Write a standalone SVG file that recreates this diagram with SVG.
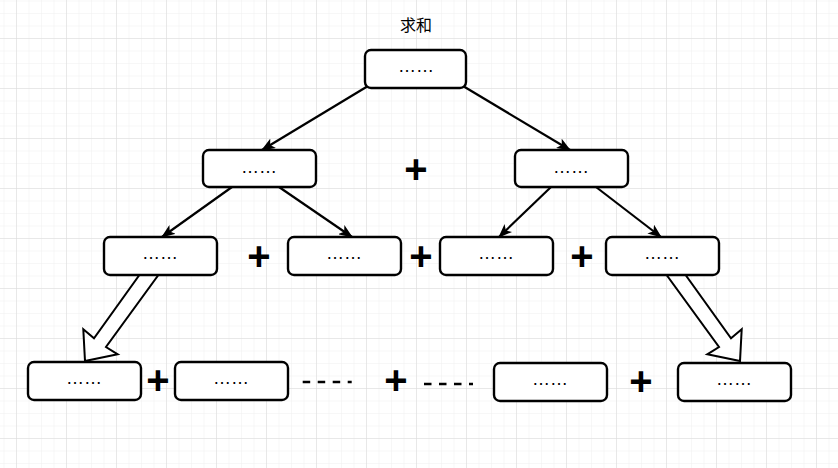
<svg xmlns="http://www.w3.org/2000/svg" width="838" height="468" viewBox="0 0 838 468">
<defs>
<pattern id="minor" x="16" y="38" width="12.5" height="12.5" patternUnits="userSpaceOnUse">
<path d="M0,0 H12.5 M0,0 V12.5" fill="none" stroke="#efefef" stroke-width="1"/>
</pattern>
<pattern id="major" x="16" y="38" width="50" height="50" patternUnits="userSpaceOnUse">
<path d="M0,0 H50 M0,0 V50" fill="none" stroke="#d9d9d9" stroke-width="1"/>
</pattern>
<marker id="arr" viewBox="0 0 14 11" markerWidth="14" markerHeight="11" refX="13" refY="5.5" orient="auto" markerUnits="userSpaceOnUse">
<path d="M0,0 L14,5.5 L0,11 L3.5,5.5 Z" fill="#000"/>
</marker>
<style>
.box{fill:#fff;stroke:#000;stroke-width:2.4}
.dots{font-family:"Liberation Sans",Arial,sans-serif;font-size:18px;fill:#000;text-anchor:middle}
.plus{font-family:"Liberation Sans",Arial,sans-serif;font-size:40px;font-weight:bold;fill:#000;text-anchor:middle}
.edge{fill:none;stroke:#000;stroke-width:2.2;marker-end:url(#arr)}
.flex{fill:#fff;stroke:#000;stroke-width:2;stroke-linejoin:miter}
.dash{stroke:#000;stroke-width:2.5;stroke-dasharray:7.5 7.5}
</style>
</defs>
<rect width="838" height="468" fill="#fff"/>
<rect width="838" height="468" fill="url(#minor)"/>
<rect width="838" height="468" fill="url(#major)"/>

<text x="416" y="31" font-family="'Noto Sans CJK SC',sans-serif" font-size="16" text-anchor="middle" fill="#000">求和</text>

<g id="connectors">
<line class="edge" x1="368" y1="86" x2="262" y2="150"/>
<line class="edge" x1="463" y1="86" x2="570" y2="150"/>
<line class="edge" x1="232" y1="187" x2="162" y2="237"/>
<line class="edge" x1="279" y1="187" x2="352" y2="237"/>
<line class="edge" x1="551" y1="187" x2="499" y2="237"/>
<line class="edge" x1="596" y1="187" x2="661" y2="237"/>
<polygon class="flex" points="143,270 162,270 106,347 117.7,354.3 85,361 83.3,329.3 94,338.3"/>
<polygon class="flex" points="682,270 663,270 719,347 707.3,354.3 740,361 741.7,329.3 731,338.3"/>
</g>

<g id="n0"><rect class="box" x="365" y="50" width="101" height="38" rx="6"/><text class="dots" x="416" y="72" font-size="22">……</text></g>
<g id="n1"><rect class="box" x="203" y="150" width="113" height="37" rx="6"/><text class="dots" x="259" y="173">……</text></g>
<g id="n2"><rect class="box" x="515" y="150" width="113" height="37" rx="6"/><text class="dots" x="571" y="173">……</text></g>
<g id="n3"><rect class="box" x="104" y="237" width="113" height="38" rx="6"/><text class="dots" x="160" y="259">……</text></g>
<g id="n4"><rect class="box" x="288" y="237" width="113" height="38" rx="6"/><text class="dots" x="344" y="259">……</text></g>
<g id="n5"><rect class="box" x="440" y="237" width="113" height="38" rx="6"/><text class="dots" x="496" y="259">……</text></g>
<g id="n6"><rect class="box" x="606" y="237" width="113" height="38" rx="6"/><text class="dots" x="662" y="259">……</text></g>
<g id="n7"><rect class="box" x="28" y="362" width="113" height="38" rx="6"/><text class="dots" x="84" y="384">……</text></g>
<g id="n8"><rect class="box" x="175" y="362" width="113" height="38" rx="6"/><text class="dots" x="231" y="384">……</text></g>
<g id="n9"><rect class="box" x="494" y="363" width="113" height="38" rx="6"/><text class="dots" x="550" y="385">……</text></g>
<g id="n10"><rect class="box" x="678" y="363" width="113" height="38" rx="6"/><text class="dots" x="734" y="385">……</text></g>

<g id="operators">
<text class="plus" x="416" y="183">+</text>
<text class="plus" x="259" y="270">+</text>
<text class="plus" x="421" y="270">+</text>
<text class="plus" x="582" y="270">+</text>
<text class="plus" x="158" y="394">+</text>
<text class="plus" x="396" y="394">+</text>
<text class="plus" x="641" y="395">+</text>
<line class="dash" x1="302.7" y1="382" x2="351.7" y2="382"/>
<line class="dash" x1="424" y1="384" x2="473" y2="384"/>
</g>
</svg>
